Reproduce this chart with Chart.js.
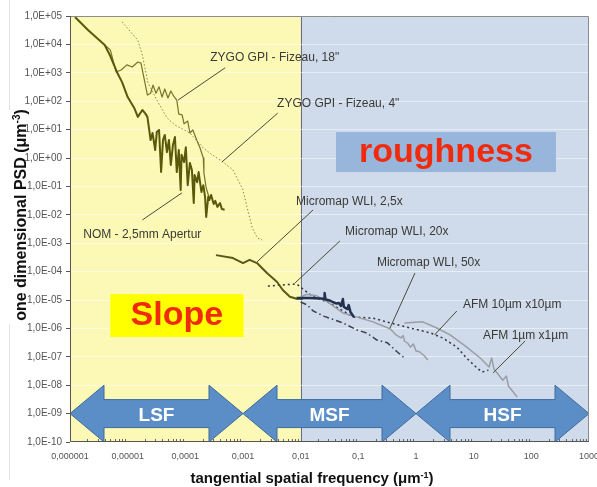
<!DOCTYPE html>
<html>
<head>
<meta charset="utf-8">
<script src="https://cdn.jsdelivr.net/npm/chart.js@4.4.1/dist/chart.umd.min.js"></script>
<style>
  html, body { margin: 0; padding: 0; background: #fff; }
  canvas { display: block; }
</style>
</head>
<body>
<canvas id="psdChart" width="597" height="487"></canvas>
<script>
// PSD curves (x in 1/um, y in um^3)
const nomX = [1.22e-6, 2.05e-6, 4e-6, 5e-6, 6.5e-6, 8e-6, 1e-5, 1.3e-5, 1.5e-5, 1.8e-5, 2e-5, 2.2e-5, 2.5e-5, 2.7e-5, 3e-5, 3.2e-5, 3.5e-5, 3.8e-5, 4.1e-5, 4.4e-5, 4.8e-5, 5.2e-5, 5.6e-5, 6.1e-5, 6.6e-5, 7.1e-5, 7.7e-5, 8.3e-5, 8.6e-5, 9.5e-5, 1.02e-4, 1.1e-4, 1.2e-4, 1.3e-4, 1.4e-4, 1.45e-4, 1.6e-4, 1.7e-4, 1.9e-4, 2.05e-4, 2.2e-4, 2.3e-4, 2.5e-4, 2.6e-4, 2.8e-4, 3.1e-4, 3.3e-4, 3.6e-4, 4e-4, 4.3e-4, 4.8e-4];
const nomY = [9.2e4, 3.2e4, 9.5e3, 3.9e3, 1.07e3, 470, 140, 58, 28, 49, 38, 28, 4.3, 7.6, 1.9, 8.2, 9.7, 0.32, 4.3, 6.5, 1.6, 4.3, 0.57, 2.9, 5.5, 0.32, 1.9, 0.075, 1.3, 0.72, 2.4, 0.11, 0.67, 0.38, 0.026, 0.25, 0.14, 0.32, 0.064, 0.11, 0.042, 0.0084, 0.044, 0.033, 0.05, 0.024, 0.031, 0.019, 0.026, 0.016, 0.015];

const zygo18X = [4e-6, 5e-6, 6.3e-6, 7.7e-6, 9.7e-6, 1.2e-5, 1.5e-5, 1.7e-5, 2.2e-5, 2.5e-5, 2.75e-5, 3.1e-5, 3.5e-5, 3.95e-5, 4.4e-5, 5e-5, 5.6e-5, 6.3e-5, 7.1e-5, 7.7e-5, 8.8e-5, 9.5e-5, 1.1e-4, 1.2e-4, 1.35e-4, 1.6e-4, 1.8e-4, 2.05e-4, 2.1e-4, 2.3e-4, 2.55e-4];
const zygo18Y = [9.5e3, 6.4e3, 1.07e3, 1.25e3, 1.9e3, 1.6e3, 2.4e3, 2.2e3, 165, 190, 370, 190, 320, 140, 270, 130, 230, 150, 110, 35, 33, 16, 20, 7.6, 9.7, 4.0, 2.25, 1.0, 0.3, 0.088, 0.044];

const zygo4X = [8e-6, 1.5e-5, 1.8e-5, 2.25e-5, 3.2e-5, 4.8e-5, 6.6e-5, 1.2e-4, 2.05e-4, 2.65e-4, 4.5e-4, 6.7e-4, 1e-3, 1.17e-3, 1.45e-3, 1.8e-3, 2.15e-3];
const zygo4Y = [6.2e4, 1.4e4, 4.2e3, 440, 110, 26, 14.5, 7.6, 2.25, 1.5, 0.72, 0.38, 0.075, 0.019, 0.0034, 0.0015, 0.0013];

const wli25X = [3.4e-4, 6.7e-4, 1e-3, 1.3e-3, 1.75e-3, 2.6e-3, 3.9e-3, 4.9e-3, 6.5e-3, 8.5e-3, 1.1e-2];
const wli25Y = [3.8e-4, 3.0e-4, 2.0e-4, 2.6e-4, 2.0e-4, 8.9e-5, 4.3e-5, 2.25e-5, 1.3e-5, 1.1e-5, 1.1e-5];

const wli20X = [8.5e-3, 1.45e-2, 2.15e-2, 2.55e-2, 2.6e-2, 2.7e-2, 3.2e-2, 3.6e-2, 4.2e-2, 4.6e-2, 5e-2, 5.4e-2, 5.6e-2, 6.5e-2, 6.8e-2, 7.3e-2, 8.4e-2];
const wli20Y = [1.17e-5, 1.17e-5, 1.13e-5, 1.1e-5, 1.75e-5, 1.04e-5, 9.6e-6, 8.5e-6, 7.5e-6, 7.8e-6, 6.2e-6, 1.08e-5, 5.7e-6, 4.8e-6, 6.6e-6, 3.8e-6, 2.5e-6];

const wli50X = [1e-2, 1.3e-2, 1.9e-2, 2.8e-2, 5.4e-2, 9.5e-2, 0.18, 0.36, 0.45, 0.55, 0.6, 0.63, 0.72, 0.8, 0.9, 1.0, 1.15, 1.4, 1.6];
const wli50Y = [1.3e-5, 1.6e-5, 1.4e-5, 9.2e-6, 3.5e-6, 2.5e-6, 1.7e-6, 9.5e-7, 5.9e-7, 4.6e-7, 5.6e-7, 3.6e-7, 3.0e-7, 2.2e-7, 2.8e-7, 1.6e-7, 1.5e-7, 1.07e-7, 7.7e-8];

const dottedX = [2.7e-3, 8.5e-3, 1.55e-2, 3.2e-2, 8.2e-2, 0.18, 0.36, 0.8, 1.8, 2.9, 5.1, 7.5, 11.5, 14, 18];
const dottedY = [3.1e-5, 3.7e-5, 1.4e-5, 7.8e-6, 2.5e-6, 2.3e-6, 1.55e-6, 1.03e-6, 6.9e-7, 4.6e-7, 2.2e-7, 9.1e-8, 4e-8, 2.9e-8, 3.4e-8];

const dashdotX = [1e-2, 1.3e-2, 1.65e-2, 2.5e-2, 5.4e-2, 9.5e-2, 0.14, 0.21, 0.32, 0.47, 0.63];
const dashdotY = [8.5e-6, 6.7e-6, 4.1e-6, 2.7e-6, 1.55e-6, 8.8e-7, 6.9e-7, 3.9e-7, 3.1e-7, 1.5e-7, 9.1e-8];

const afmX = [0.63, 1.3, 2.3, 3.9, 7.6, 13, 18.5, 20.5, 22.5, 32, 37, 40, 57];
const afmY = [1.55e-6, 1.7e-6, 1.03e-6, 5.9e-7, 2.2e-7, 9.1e-8, 4.4e-8, 9.1e-8, 3.7e-8, 1.5e-8, 2.1e-8, 9.4e-9, 3.8e-9];

// axes
const xTickValues = [1e-6, 1e-5, 1e-4, 1e-3, 1e-2, 1e-1, 1, 10, 100, 1000];
const xTickLabels = ['0,000001', '0,00001', '0,0001', '0,001', '0,01', '0,1', '1', '10', '100', '1000'];
const yTickValues = [1e-10, 1e-9, 1e-8, 1e-7, 1e-6, 1e-5, 1e-4, 1e-3, 1e-2, 1e-1, 1, 10, 100, 1e3, 1e4, 1e5];
const yTickLabels = ['1,0E-10', '1,0E-09', '1,0E-08', '1,0E-07', '1,0E-06', '1,0E-05', '1,0E-04', '1,0E-03', '1,0E-02', '1,0E-01', '1,0E+00', '1,0E+01', '1,0E+02', '1,0E+03', '1,0E+04', '1,0E+05'];

// frequency bands (arrows) and the slope / roughness split
const bandEdges = [1e-6, 1e-3, 1, 1000];
const bandNames = ['LSF', 'MSF', 'HSF'];
const bandLevel = 1e-9;
const regionSplit = 0.01;

// curve labels: text anchor, leader start, leader end (data coords)
const labelTexts = ['ZYGO GPI - Fizeau, 18"', 'ZYGO GPI - Fizeau, 4"', 'NOM - 2,5mm Apertur', 'Micromap WLI, 2,5x', 'Micromap WLI, 20x', 'Micromap WLI, 50x', 'AFM 10µm x10µm', 'AFM 1µm x1µm'];
const labelAt = [[2.7e-4, 3.3e3], [3.9e-3, 80], [1.7e-6, 1.95e-3], [8.3e-3, 2.8e-2], [5.9e-2, 2.5e-3], [0.21, 2.0e-4], [6.5, 6.7e-6], [14.5, 5.4e-7]];
const leaderFrom = [[4.9e-4, 1.5e3], [4.0e-3, 38], [1.8e-5, 6.6e-3], [1.64e-2, 1.48e-2], [4.8e-2, 1.2e-3], [0.96, 8.9e-5], [5.1, 4.1e-6], [78, 3.6e-7]];
const leaderTo = [[7.5e-5, 110], [4.3e-4, 0.72], [8.7e-5, 5.9e-2], [1.75e-3, 2.2e-4], [8.0e-3, 4.0e-5], [0.354, 1.03e-6], [2.1, 5.9e-7], [21.6, 2.7e-8]];

// Slope / roughness boxes: [xmin, xmax, ymin, ymax]
const slopeBox = [5e-6, 1.02e-3, 5e-7, 1.6e-5];
const roughBox = [0.041, 267, 0.32, 8.2];

function pts(xs, ys) {
    return xs.map((v, i) => ({ x: v, y: ys[i] }));
}

function line(label, xs, ys, color, width, dash) {
    return {
        label: label,
        data: pts(xs, ys),
        showLine: true,
        borderColor: color,
        borderWidth: width,
        borderDash: dash || [],
        borderJoinStyle: 'round',
        pointRadius: 0,
        fill: false,
        tension: 0
    };
}

const FONT = "'Liberation Sans', Arial, sans-serif";

function doubleArrow(ctx, xl, xr, yc, headLen, headHalf, bodyHalf) {
    ctx.beginPath();
    ctx.moveTo(xl, yc);
    ctx.lineTo(xl + headLen, yc - headHalf);
    ctx.lineTo(xl + headLen, yc - bodyHalf);
    ctx.lineTo(xr - headLen, yc - bodyHalf);
    ctx.lineTo(xr - headLen, yc - headHalf);
    ctx.lineTo(xr, yc);
    ctx.lineTo(xr - headLen, yc + headHalf);
    ctx.lineTo(xr - headLen, yc + bodyHalf);
    ctx.lineTo(xl + headLen, yc + bodyHalf);
    ctx.lineTo(xl + headLen, yc + headHalf);
    ctx.closePath();
    ctx.fill();
    ctx.stroke();
}

// title with a superscript, centred on (0,0) of the current transform
function supTitle(ctx, base, sup, tail, size) {
    const big = 'bold ' + size + 'px ' + FONT;
    const small = 'bold ' + Math.round(size * 0.62) + 'px ' + FONT;
    ctx.font = big;
    const wb = ctx.measureText(base).width;
    const wt = ctx.measureText(tail).width;
    ctx.font = small;
    const ws = ctx.measureText(sup).width;
    let x = -(wb + ws + wt) / 2;
    ctx.textAlign = 'left';
    ctx.textBaseline = 'alphabetic';
    ctx.font = big;
    ctx.fillText(base, x, size * 0.36);
    ctx.font = small;
    ctx.fillText(sup, x + wb, size * 0.36 - size * 0.38);
    ctx.font = big;
    ctx.fillText(tail, x + wb + ws, size * 0.36);
}

const decor = {
    id: 'decor',
    beforeDraw(chart) {
        const { ctx, chartArea: a, scales: { x } } = chart;
        ctx.save();
        ctx.fillStyle = '#fff';
        ctx.fillRect(0, 0, chart.width, chart.height);
        const xs = x.getPixelForValue(regionSplit);
        ctx.fillStyle = '#fcf8b6';
        ctx.fillRect(a.left, a.top, xs - a.left, a.bottom - a.top);
        ctx.fillStyle = '#cfdbea';
        ctx.fillRect(xs, a.top, a.right - xs, a.bottom - a.top);
        ctx.strokeStyle = '#6e6e6e';
        ctx.lineWidth = 1;
        ctx.beginPath();
        ctx.moveTo(Math.round(xs) + 0.5, a.top);
        ctx.lineTo(Math.round(xs) + 0.5, a.bottom);
        ctx.stroke();
        // faint slide frame on the left
        ctx.strokeStyle = '#e2e2e2';
        ctx.beginPath();
        ctx.moveTo(9.5, 0); ctx.lineTo(9.5, 110);
        ctx.moveTo(9.5, 324); ctx.lineTo(9.5, 480);
        ctx.stroke();
        ctx.restore();
    },
    afterDatasetsDraw(chart) {
        const { ctx, chartArea: a, scales: { x, y } } = chart;
        const px = v => x.getPixelForValue(v);
        const py = v => y.getPixelForValue(v);
        ctx.save();

        // Slope box
        ctx.fillStyle = '#ffff00';
        ctx.fillRect(px(slopeBox[0]), py(slopeBox[3]), px(slopeBox[1]) - px(slopeBox[0]), py(slopeBox[2]) - py(slopeBox[3]));
        ctx.fillStyle = '#f22a0c';
        ctx.font = 'bold 34px ' + FONT;
        ctx.textAlign = 'center';
        ctx.textBaseline = 'alphabetic';
        ctx.fillText('Slope', (px(slopeBox[0]) + px(slopeBox[1])) / 2, py(slopeBox[3]) + 31);

        // roughness box
        ctx.fillStyle = '#98b6dc';
        ctx.fillRect(px(roughBox[0]), py(roughBox[3]), px(roughBox[1]) - px(roughBox[0]), py(roughBox[2]) - py(roughBox[3]));
        ctx.fillStyle = '#f22a0c';
        ctx.fillText('roughness', (px(roughBox[0]) + px(roughBox[1])) / 2, py(roughBox[3]) + 30);

        // band arrows
        const yc = py(bandLevel);
        const headHalf = yc - py(bandLevel * 10);
        ctx.fillStyle = '#5b8ec7';
        ctx.strokeStyle = '#3f6a9c';
        ctx.lineWidth = 1;
        for (let i = 0; i < bandNames.length; i++) {
            doubleArrow(ctx, px(bandEdges[i]), px(bandEdges[i + 1]), yc, 34, headHalf, 14);
        }
        ctx.fillStyle = '#fff';
        ctx.font = 'bold 19px ' + FONT;
        for (let i = 0; i < bandNames.length; i++) {
            ctx.fillText(bandNames[i], (px(bandEdges[i]) + px(bandEdges[i + 1])) / 2, yc + 7);
        }

        // leaders and curve labels
        ctx.strokeStyle = '#4a4a3c';
        ctx.lineWidth = 1;
        for (let i = 0; i < labelTexts.length; i++) {
            ctx.beginPath();
            ctx.moveTo(px(leaderFrom[i][0]), py(leaderFrom[i][1]));
            ctx.lineTo(px(leaderTo[i][0]), py(leaderTo[i][1]));
            ctx.stroke();
        }
        ctx.fillStyle = '#3a3a36';
        ctx.font = '12px ' + FONT;
        ctx.textAlign = 'left';
        ctx.textBaseline = 'middle';
        for (let i = 0; i < labelTexts.length; i++) {
            ctx.fillText(labelTexts[i], px(labelAt[i][0]), py(labelAt[i][1]));
        }

        // minor ticks on the frequency axis
        ctx.strokeStyle = '#666';
        ctx.beginPath();
        for (let d = 0; d < xTickValues.length - 1; d++) {
            for (let m = 2; m <= 9; m++) {
                const xx = Math.round(px(xTickValues[d] * m)) + 0.5;
                ctx.moveTo(xx, a.bottom);
                ctx.lineTo(xx, a.bottom - 3);
            }
        }
        ctx.stroke();

        // plot frame
        ctx.strokeStyle = '#8c8c8c';
        ctx.beginPath();
        ctx.moveTo(a.left, a.top + 0.5); ctx.lineTo(a.right - 0.5, a.top + 0.5); ctx.lineTo(a.right - 0.5, a.bottom);
        ctx.stroke();
        ctx.strokeStyle = '#555';
        ctx.beginPath();
        ctx.moveTo(a.left + 0.5, a.top); ctx.lineTo(a.left + 0.5, a.bottom - 0.5); ctx.lineTo(a.right, a.bottom - 0.5);
        ctx.stroke();

        // axis titles
        ctx.fillStyle = '#111';
        ctx.save();
        ctx.translate(312, 478);
        supTitle(ctx, 'tangential spatial frequency (μm', '-1', ')', 15);
        ctx.restore();
        ctx.save();
        ctx.translate(20, 215);
        ctx.rotate(-Math.PI / 2);
        supTitle(ctx, 'one dimensional PSD (μm', '-3', ')', 16);
        ctx.restore();

        ctx.restore();
    }
};

new Chart(document.getElementById('psdChart'), {
    type: 'scatter',
    data: {
        datasets: [
            line('NOM - 2,5mm Apertur', nomX, nomY, '#5a580a', 2),
            line('Micromap WLI, 20x', wli20X, wli20Y, '#22314f', 2.5),
            line('Micromap WLI, 2,5x', wli25X, wli25Y, '#5a5812', 2),
            line('ZYGO GPI - Fizeau, 18"', zygo18X, zygo18Y, '#77732a', 1.2),
            line('ZYGO GPI - Fizeau, 4"', zygo4X, zygo4Y, '#8c8844', 1, [1.5, 2]),
            line('Micromap WLI, 50x', wli50X, wli50Y, '#999ea5', 1.5),
            line('AFM 10µm x10µm', dottedX, dottedY, '#2e3440', 1.5, [2, 3]),
            line('dash-dot', dashdotX, dashdotY, '#3c414b', 1.5, [6, 3, 1.5, 3]),
            line('AFM 1µm x1µm', afmX, afmY, '#999ea5', 1.5)
        ]
    },
    options: {
        responsive: false,
        animation: false,
        devicePixelRatio: 1,
        layout: { padding: { left: 0, top: 16, right: 8, bottom: 0 } },
        plugins: { legend: { display: false }, tooltip: { enabled: false } },
        scales: {
            x: {
                type: 'logarithmic',
                min: 1e-6,
                max: 1000,
                afterBuildTicks: s => { s.ticks = xTickValues.map(v => ({ value: v })); },
                afterFit: s => { s.height = 45; s.paddingLeft = 0; s.paddingRight = 0; },
                border: { display: false },
                grid: { display: false, drawTicks: false },
                ticks: {
                    autoSkip: false,
                    maxRotation: 0,
                    padding: 9,
                    color: '#555',
                    font: { family: FONT, size: 9 },
                    callback: (v, i) => xTickLabels[i]
                }
            },
            y: {
                type: 'logarithmic',
                min: 1e-10,
                max: 1e5,
                afterBuildTicks: s => { s.ticks = yTickValues.map(v => ({ value: v })); },
                afterFit: s => { s.width = 70; },
                border: { display: false },
                grid: { color: 'rgba(255,255,255,0.5)', tickColor: '#555', tickLength: 4 },
                ticks: {
                    autoSkip: false,
                    padding: 4,
                    color: '#555',
                    font: { family: FONT, size: 10 },
                    callback: (v, i) => yTickLabels[i]
                }
            }
        }
    },
    plugins: [decor]
});
</script>
</body>
</html>
